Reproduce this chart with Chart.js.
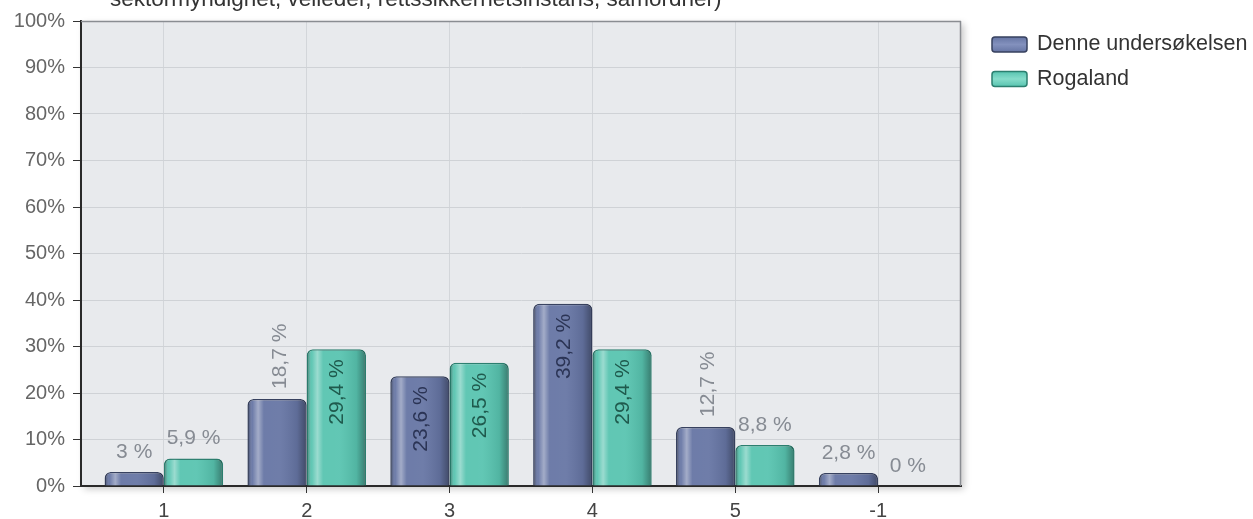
<!DOCTYPE html>
<html>
<head>
<meta charset="utf-8">
<script src="https://cdn.jsdelivr.net/npm/chart.js@4"></script>
<style>
  html, body { margin: 0; padding: 0; background: #ffffff; }
  #wrap { width: 1253px; height: 519px; position: relative; }
</style>
</head>
<body>
<div id="wrap"><canvas id="c" width="1253" height="519"></canvas></div>
<script>
const categories = ['1', '2', '3', '4', '5', '-1'];
const seriesNames = ['Denne undersøkelsen', 'Rogaland'];
const denneValues = [3, 18.7, 23.6, 39.2, 12.7, 2.8];
const rogalandValues = [5.9, 29.4, 26.5, 29.4, 8.8, 0];
const titleLine = 'sektormyndighet, veileder, rettssikkerhetsinstans, samordner)';

const FONT = '"Liberation Sans", Arial, sans-serif';
Chart.defaults.font.family = FONT;

const baseColors = ['#6675a4', '#58c4b0'];
const borderColors = ['#37415f', '#2b7f6f'];
const insideText = ['#2b3455', '#1f5a4d'];

function roundTopRect(c, x0, x1, top, bottom, r) {
  r = Math.min(r, (x1 - x0) / 2, bottom - top);
  c.beginPath();
  c.moveTo(x0, bottom);
  c.lineTo(x0, top + r);
  c.quadraticCurveTo(x0, top, x0 + r, top);
  c.lineTo(x1 - r, top);
  c.quadraticCurveTo(x1, top, x1, top + r);
  c.lineTo(x1, bottom);
  c.closePath();
}

const decorPlugin = {
  id: 'decor',
  beforeDraw(chart) {
    const c = chart.ctx, a = chart.chartArea;
    c.save();
    c.shadowColor = 'rgba(0,0,0,0.22)';
    c.shadowBlur = 7;
    c.shadowOffsetX = 3;
    c.shadowOffsetY = 3;
    c.fillStyle = '#e8eaed';
    c.fillRect(a.left, a.top, a.right - a.left, a.bottom - a.top);
    c.restore();
    // title line (second line of the title, top cut by the image edge)
    c.save();
    c.font = '22.5px ' + FONT;
    c.fillStyle = '#333333';
    c.textAlign = 'left';
    c.textBaseline = 'alphabetic';
    c.fillText(titleLine, 110, 6);
    c.restore();
  },
  afterDatasetsDraw(chart) {
    const c = chart.ctx;
    // cylinder shading on bars
    chart.data.datasets.forEach((ds, di) => {
      const meta = chart.getDatasetMeta(di);
      meta.data.forEach((el, i) => {
        const v = ds.data[i].y;
        if (!v) return;
        const x0 = el.x - el.width / 2 + 1, x1 = el.x + el.width / 2 - 1;
        const top = el.y + 1, bottom = el.base;
        c.save();
        roundTopRect(c, x0, x1, top, bottom, 5);
        c.clip();
        const g = c.createLinearGradient(x0, 0, x1, 0);
        g.addColorStop(0, 'rgba(0,0,0,0.32)');
        g.addColorStop(0.07, 'rgba(255,255,255,0.05)');
        g.addColorStop(0.17, 'rgba(255,255,255,0.40)');
        g.addColorStop(0.27, 'rgba(255,255,255,0.05)');
        g.addColorStop(0.55, 'rgba(255,255,255,0.06)');
        g.addColorStop(0.85, 'rgba(0,0,0,0.08)');
        g.addColorStop(1, 'rgba(0,0,0,0.34)');
        c.fillStyle = g;
        c.fillRect(x0, top, x1 - x0, bottom - top);
        c.restore();
      });
    });
    // value labels
    chart.data.datasets.forEach((ds, di) => {
      const meta = chart.getDatasetMeta(di);
      meta.data.forEach((el, i) => {
        const v = ds.data[i].y;
        const txt = String(v).replace('.', ',') + ' %';
        c.save();
        c.font = '21px ' + FONT;
        c.textBaseline = 'middle';
        if (v >= 20) {
          c.fillStyle = insideText[di];
          c.translate(el.x + 1, el.y + 10);
          c.rotate(-Math.PI / 2);
          c.textAlign = 'right';
          c.fillText(txt, 0, 0);
        } else if (v >= 10) {
          c.fillStyle = '#868b93';
          c.translate(el.x + 3, el.y - 10);
          c.rotate(-Math.PI / 2);
          c.textAlign = 'left';
          c.fillText(txt, 0, 0);
        } else {
          c.fillStyle = '#868b93';
          c.textAlign = 'center';
          c.fillText(txt, el.x, el.y - 20);
        }
        c.restore();
      });
    });
  },
  afterDraw(chart) {
    const c = chart.ctx, a = chart.chartArea;
    c.save();
    c.strokeStyle = '#8a8d92';
    c.lineWidth = 1.5;
    c.beginPath();
    c.moveTo(a.left, a.top + 0.5);
    c.lineTo(a.right, a.top + 0.5);
    c.moveTo(a.right - 0.5, a.top);
    c.lineTo(a.right - 0.5, a.bottom);
    c.stroke();
    c.restore();
    // legend
    chart.data.datasets.forEach((ds, di) => {
      const bx = 992, by = 37 + di * 34.5, bw = 35, bh = 15;
      c.save();
      const g = c.createLinearGradient(0, by, 0, by + bh);
      g.addColorStop(0, baseColors[di]);
      g.addColorStop(0.5, di === 0 ? '#8391bd' : '#86dcca');
      g.addColorStop(1, baseColors[di]);
      c.fillStyle = g;
      c.strokeStyle = borderColors[di];
      c.lineWidth = 1.5;
      c.beginPath();
      c.roundRect(bx, by, bw, bh, 3);
      c.fill();
      c.stroke();
      c.font = '21.5px ' + FONT;
      c.fillStyle = '#333333';
      c.textAlign = 'left';
      c.textBaseline = 'middle';
      c.fillText(ds.label, 1037, by + bh / 2);
      c.restore();
    });
  }
};

function makeDataset(idx, values) {
  return {
    label: seriesNames[idx],
    data: values.map((v, i) => ({ x: i, y: v })),
    backgroundColor: baseColors[idx],
    borderColor: borderColors[idx],
    borderWidth: (ctx) => (ctx.raw && ctx.raw.y ? 1.5 : 0),
    borderRadius: { topLeft: 6, topRight: 6, bottomLeft: 0, bottomRight: 0 },
    borderSkipped: 'bottom',
    categoryPercentage: 0.83,
    barPercentage: 1.0
  };
}

new Chart(document.getElementById('c'), {
  type: 'bar',
  data: { datasets: [makeDataset(0, denneValues), makeDataset(1, rogalandValues)] },
  options: {
    responsive: false,
    animation: false,
    layout: { padding: { top: 21, right: 292, left: 0, bottom: 0 } },
    plugins: { legend: { display: false }, tooltip: { enabled: false }, title: { display: false } },
    scales: {
      x: {
        type: 'linear',
        min: -0.58,
        max: 5.58,
        offset: false,
        afterBuildTicks(s) { s.ticks = categories.map((c, i) => ({ value: i })); },
        afterFit(s) { s.height = 33; },
        ticks: {
          autoSkip: false,
          maxRotation: 0,
          padding: 6,
          color: '#444444',
          font: { size: 20 },
          callback: (v) => categories[Math.round(v)]
        },
        grid: { offset: false, color: '#d3d6da', tickColor: '#333333', tickLength: 7, lineWidth: 1 },
        border: { color: '#2a2a2a', width: 2 }
      },
      y: {
        min: 0,
        max: 100,
        afterFit(s) { s.width = 81; },
        ticks: {
          stepSize: 10,
          padding: 8,
          color: '#666666',
          font: { size: 20 },
          callback: (v) => v + '%'
        },
        grid: { color: '#cfd2d6', tickColor: '#333333', tickLength: 8, lineWidth: 1 },
        border: { color: '#2a2a2a', width: 2 }
      }
    }
  },
  plugins: [decorPlugin]
});
</script>
</body>
</html>
